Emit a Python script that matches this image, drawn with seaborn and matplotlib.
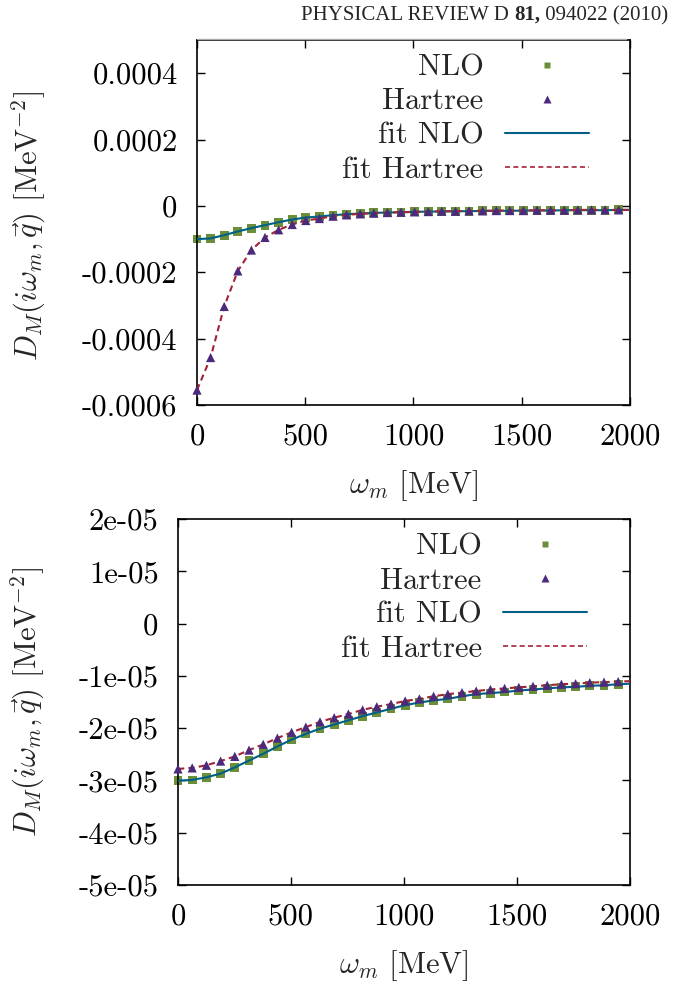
import numpy as np
import pandas as pd
import matplotlib
matplotlib.use("Agg")
import matplotlib.pyplot as plt
import seaborn as sns
from matplotlib.lines import Line2D

# ---------------- data ----------------
# Matsubara frequencies omega_m [MeV]
omega = [0.0, 62.8, 125.7, 188.5, 251.3, 314.2, 377.0, 439.8, 502.7, 565.5,
         628.3, 691.2, 754.0, 816.8, 879.6, 942.5, 1005.3, 1068.1, 1131.0, 1193.8,
         1256.6, 1319.5, 1382.3, 1445.1, 1508.0, 1570.8, 1633.6, 1696.5, 1759.3, 1822.1,
         1885.0, 1947.8]
omega_fit = omega + [2000.0]

# top panel  [MeV^-2]
top_nlo = [-100e-6, -98e-6, -88e-6, -77e-6, -67e-6, -58e-6, -49e-6, -41e-6, -35e-6, -32e-6,
           -28e-6, -25e-6, -23e-6, -21e-6, -20e-6, -19e-6, -18e-6, -17e-6, -17e-6, -16e-6,
           -16e-6, -15e-6, -15e-6, -15e-6, -14e-6, -14e-6, -14e-6, -13e-6, -13e-6, -13e-6,
           -13e-6, -12e-6]
top_hartree = [-555e-6, -457e-6, -303e-6, -196e-6, -133e-6, -95e-6, -72e-6, -56e-6, -44e-6, -38e-6,
               -31e-6, -27e-6, -24e-6, -22e-6, -20e-6, -19e-6, -18e-6, -17e-6, -16e-6, -16e-6,
               -15e-6, -15e-6, -14e-6, -14e-6, -14e-6, -13e-6, -13e-6, -13e-6, -12e-6, -12e-6,
               -12e-6, -12e-6]
top_fit_nlo = top_nlo + [-12e-6]
top_fit_hartree = top_hartree + [-12e-6]

# bottom panel [MeV^-2]
bot_nlo = [-3.006e-5, -2.99e-5, -2.94e-5, -2.87e-5, -2.75e-5, -2.62e-5, -2.49e-5, -2.35e-5, -2.22e-5, -2.11e-5,
           -2.01e-5, -1.93e-5, -1.85e-5, -1.77e-5, -1.70e-5, -1.63e-5, -1.56e-5, -1.51e-5, -1.47e-5, -1.44e-5,
           -1.39e-5, -1.35e-5, -1.33e-5, -1.31e-5, -1.28e-5, -1.26e-5, -1.24e-5, -1.22e-5, -1.21e-5, -1.19e-5,
           -1.18e-5, -1.16e-5]
bot_hartree = [-2.78e-5, -2.76e-5, -2.71e-5, -2.63e-5, -2.54e-5, -2.42e-5, -2.31e-5, -2.19e-5, -2.08e-5, -1.98e-5,
               -1.88e-5, -1.80e-5, -1.73e-5, -1.65e-5, -1.59e-5, -1.54e-5, -1.48e-5, -1.44e-5, -1.39e-5, -1.35e-5,
               -1.32e-5, -1.29e-5, -1.26e-5, -1.24e-5, -1.22e-5, -1.20e-5, -1.18e-5, -1.16e-5, -1.15e-5, -1.13e-5,
               -1.12e-5, -1.11e-5]
bot_fit_nlo = bot_nlo + [-1.15e-5]
bot_fit_hartree = bot_hartree + [-1.10e-5]

xticks = [0, 500, 1000, 1500, 2000]
xticklabels = ["0", "500", "1000", "1500", "2000"]
top_yticks = [0.0004, 0.0002, 0.0, -0.0002, -0.0004, -0.0006]
top_yticklabels = ["0.0004", "0.0002", "0", "-0.0002", "-0.0004", "-0.0006"]
bot_yticks = [2e-5, 1e-5, 0.0, -1e-5, -2e-5, -3e-5, -4e-5, -5e-5]
bot_yticklabels = ["2e-05", "1e-05", "0", "-1e-05", "-2e-05", "-3e-05", "-4e-05", "-5e-05"]

series_labels = ["NLO", "Hartree", "fit NLO", "fit Hartree"]
header_parts = ["PHYSICAL REVIEW D ", "81,", " 094022 (2010)"]

# ---------------- style ----------------
sns.set_theme(style="ticks")
FS = 22
plt.rcParams.update({
    "font.family": "serif",
    "font.serif": ["cmr10"],
    "mathtext.fontset": "cm",
    "axes.unicode_minus": False,
    "axes.formatter.use_mathtext": True,
    "font.size": FS,
    "axes.linewidth": 1.2,
    "axes.edgecolor": "black",
})

C_NLO = "#6a8f38"
C_HAR = "#4b2a7d"
C_FNLO = "#005f87"
C_FHAR = "#a32336"

fig = plt.figure(figsize=(6.95, 9.92), dpi=100)
W, H = 695.0, 992.0

def add_ax(l, r, t, b):
    return fig.add_axes([l / W, 1 - b / H, (r - l) / W, (b - t) / H])

ax1 = add_ax(197, 630, 40, 405)
ax2 = add_ax(178, 630, 519, 885)

def draw(ax, nlo, har, fnlo, fhar, ylim, yt, ytl, legend_anchor):
    df_fit = pd.DataFrame({"w": omega_fit, "nlo": fnlo, "har": fhar})
    df = pd.DataFrame({"w": omega, "nlo": nlo, "har": har})
    sns.lineplot(data=df_fit, x="w", y="nlo", ax=ax, color=C_FNLO, lw=1.5, zorder=3)
    sns.lineplot(data=df_fit, x="w", y="har", ax=ax, color=C_FHAR, lw=1.5,
                 dashes=False, zorder=3)
    ax.lines[-1].set_dashes((3.0, 2.0))
    sns.scatterplot(data=df, x="w", y="nlo", ax=ax, marker="s", s=40, color=C_NLO,
                    edgecolor="none", linewidth=0, zorder=2, clip_on=False)
    sns.scatterplot(data=df, x="w", y="har", ax=ax, marker="^", s=44, color=C_HAR,
                    edgecolor="none", linewidth=0, zorder=4, clip_on=False)
    ax.set_xlim(0, 2000)
    ax.set_ylim(*ylim)
    ax.set_xticks(xticks)
    ax.set_xticklabels(xticklabels)
    ax.set_yticks(yt)
    ax.set_yticklabels(ytl)
    ax.tick_params(direction="in", length=6, width=1.0, top=True, right=True,
                   labelsize=FS, pad=14, colors="black")
    ax.tick_params(axis="x", pad=13)
    for s in ax.spines.values():
        s.set_visible(True)
        s.set_linewidth(1.2)
        s.set_color("black")
    ax.set_xlabel(r"$\omega_m$ [MeV]", fontsize=FS, labelpad=13)
    ax.set_ylabel(r"$D_M(i\omega_m,\vec{q})$ [MeV$^{-2}$]", fontsize=FS)
    handles = [
        Line2D([], [], ls="none", marker="s", ms=5.0, color=C_NLO, mec="none"),
        Line2D([], [], ls="none", marker="^", ms=5.5, color=C_HAR, mec="none"),
        Line2D([], [], color=C_FNLO, lw=1.5),
        Line2D([], [], color=C_FHAR, lw=1.2, dashes=(3.0, 2.0)),
    ]
    leg = ax.legend(handles, series_labels, loc="upper right", bbox_to_anchor=legend_anchor,
                    frameon=False, markerfirst=False, handlelength=2.75, handletextpad=0.7,
                    labelspacing=0.22, borderpad=0, borderaxespad=0, fontsize=FS)
    return leg

draw(ax1, top_nlo, top_hartree, top_fit_nlo, top_fit_hartree, (-0.0006, 0.0005),
     top_yticks, top_yticklabels, (0.905, 0.962))
draw(ax2, bot_nlo, bot_hartree, bot_fit_nlo, bot_fit_hartree, (-5e-5, 2e-5),
     bot_yticks, bot_yticklabels, (0.905, 0.962))

ax1.yaxis.set_label_coords(-0.345, 0.49)
ax2.yaxis.set_label_coords(-0.29, 0.5)

# header, built right-to-left so the bold volume number sits in place
fig.canvas.draw()
renderer = fig.canvas.get_renderer()
x_right = 668.0
y_base = 1 - 20 / H
for part, weight in zip(reversed(header_parts), ["normal", "bold", "normal"]):
    t = fig.text(x_right / W, y_base, part, ha="right", va="baseline", fontsize=15,
                 family="Liberation Serif", weight=weight)
    bb = t.get_window_extent(renderer)
    x_right = bb.x0
fig.add_artist(Line2D([197 / W, 626 / W], [1 - 39.3 / H, 1 - 39.3 / H], color="#aaaaaa", lw=1.0))

fig.savefig("out.png", dpi=100)
